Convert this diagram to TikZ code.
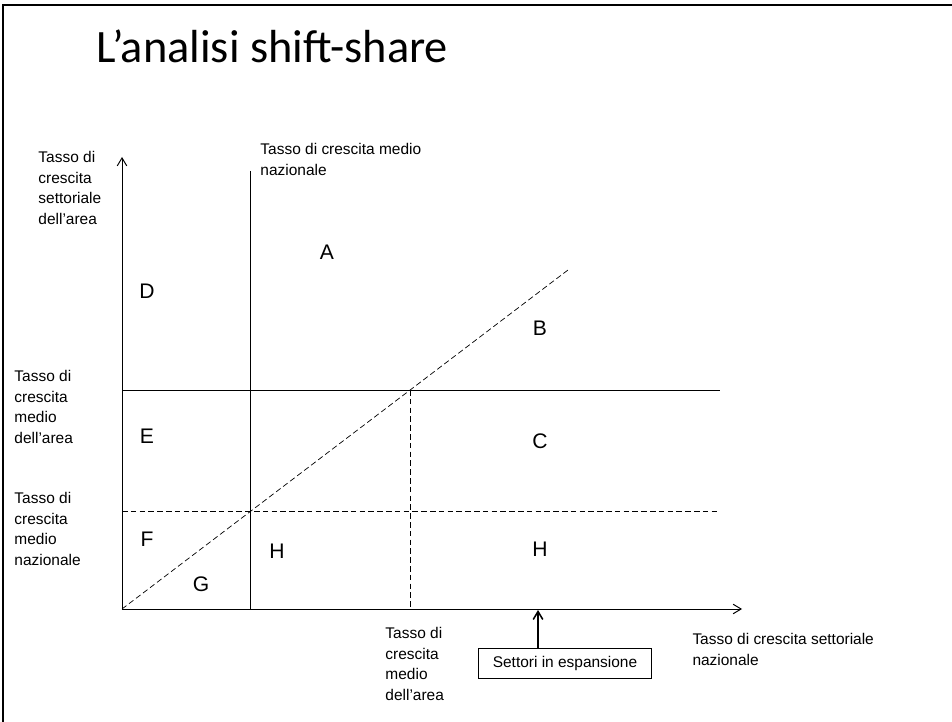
\documentclass[tikz,border=0pt]{standalone}
\usepackage{fontspec}
\setmainfont{Liberation Sans}
\newfontfamily\titlefont{Carlito}
\usetikzlibrary{arrows.meta}

\begin{document}
\begin{tikzpicture}[x=0.25mm, y=-0.25mm, line width=0.7pt,
  >={Straight Barb[length=2mm, width=2.4mm]},
  every node/.append style={inner sep=0pt},
  lbl/.style={anchor=north west, align=left, font=\fontsize{11}{14.6}\selectfont},
  zona/.style={font=\fontsize{15}{18}\selectfont},
  tratto/.style={line width=0.5pt, dash pattern=on 1.4mm off 0.8mm},
  riquadro/.style={draw, line width=0.6pt, inner xsep=3.6mm, minimum height=7.5mm,
    font=\fontsize{11}{13}\selectfont}]
  \useasboundingbox (0,0) rectangle (952,722);
  % cornice
  \draw[line width=1.6pt] (3,722) -- (3,5) -- (952,5);
  \node[anchor=base west, font=\titlefont\fontsize{33}{33}\selectfont] (titolo) at (96,63) {L’analisi shift-share};
  % assi
  \coordinate (O) at (122,609);
  \coordinate (ytip) at (122,157);
  \coordinate (xtip) at (742,609);
  \draw[->] (O) -- (ytip);
  \draw[->] (O) -- (xtip);
  % linee
  \coordinate (vtop) at (250,171);
  \coordinate (hl) at (122,390);
  \coordinate (hr) at (720,390);
  \coordinate (dl) at (122,511);
  \coordinate (dr) at (720,511);
  \coordinate (inc) at (410,390);
  \coordinate (diag) at (568,270);
  \draw (vtop) -- (vtop |- O);
  \draw (hl) -- (hr);
  \draw[tratto] (dl) -- (dr);
  \draw[tratto] (inc) -- (inc |- O);
  \draw[tratto] (O) -- (diag);
  % etichette
  \node[lbl] (yasse) at (38,151) {Tasso di\\crescita\\settoriale\\dell’area};
  \node[lbl] (mnaz) at (260,143) {Tasso di crescita medio\\nazionale};
  \node[lbl] (marea) at (14,370) {Tasso di\\crescita\\medio\\dell’area};
  \node[lbl] (mnazy) at (14,492) {Tasso di\\crescita\\medio\\nazionale};
  \node[lbl] (mareax) at (385,627) {Tasso di\\crescita\\medio\\dell’area};
  \node[lbl] (xasse) at (692,633) {Tasso di crescita settoriale\\nazionale};
  % zone
  \node[zona] (A) at (327,252) {A};
  \node[zona] (B) at (540,328) {B};
  \node[zona] (C) at (540,441) {C};
  \node[zona] (D) at (147,291) {D};
  \node[zona] (E) at (147,436) {E};
  \node[zona] (F) at (147,539) {F};
  \node[zona] (G) at (201,584) {G};
  \node[zona] (H1) at (277,551) {H};
  \node[zona] (H2) at (540,549) {H};
  % settori in espansione
  \node[riquadro] (esp) at (565,663) {Settori in espansione};
  \draw[->, line width=1.1pt] (esp.north -| 538,0) -- (538,610);
\end{tikzpicture}
\end{document}
